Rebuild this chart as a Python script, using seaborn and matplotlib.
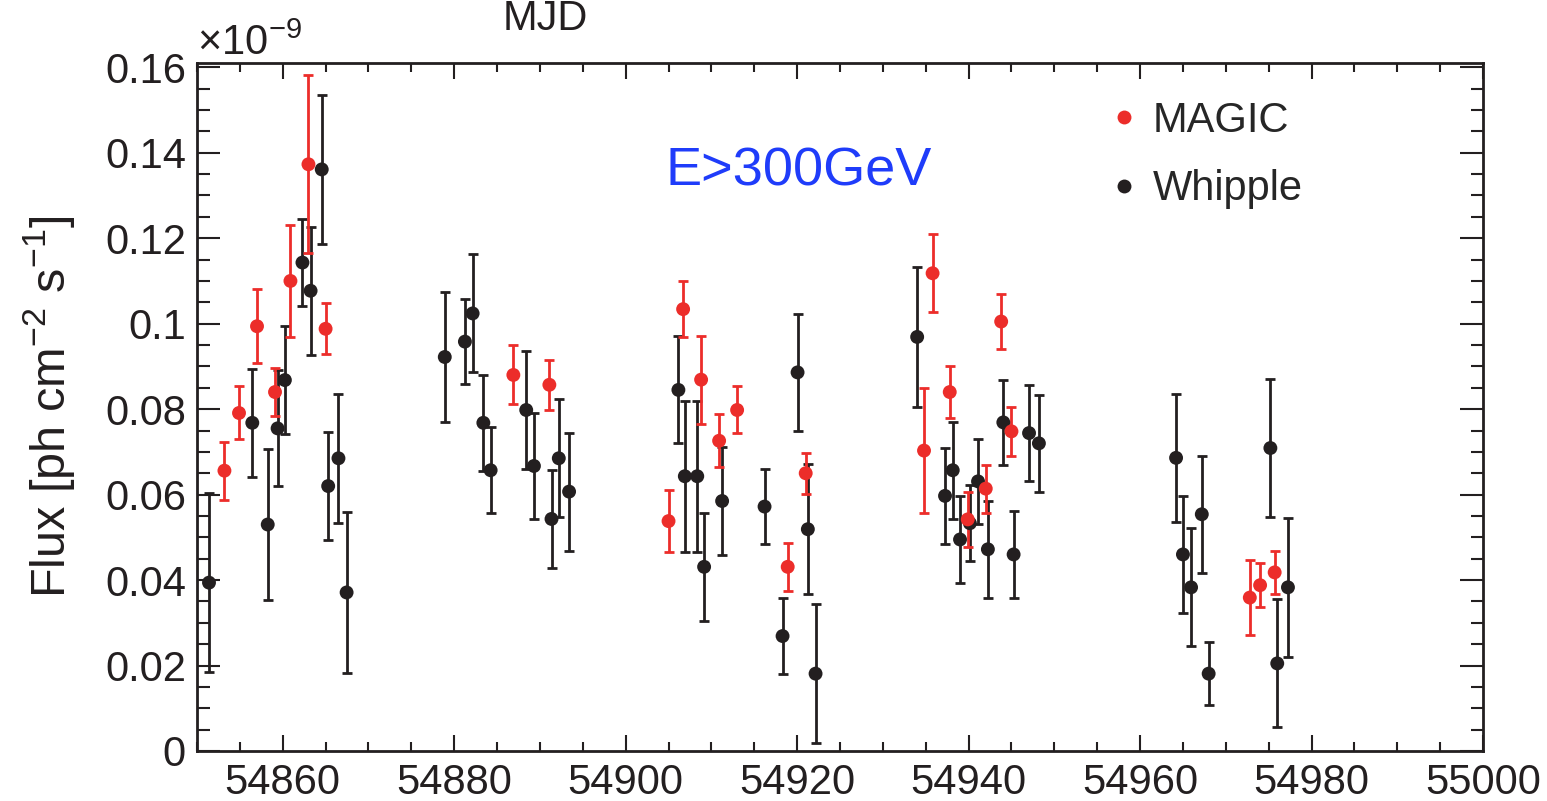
import numpy as np
import pandas as pd
import matplotlib
matplotlib.use("Agg")
import matplotlib.pyplot as plt
from matplotlib.ticker import MultipleLocator, FuncFormatter
import seaborn as sns

# MAGIC light curve, E > 300 GeV (flux in units of 1e-9 ph cm^-2 s^-1)
magic_mjd = [54853.2, 54854.9, 54857.0, 54859.1, 54860.9, 54863.0, 54865.0,
             54886.9, 54891.1,
             54905.0, 54906.7, 54908.8, 54910.9, 54913.0, 54918.9, 54921.0,
             54934.8, 54935.8, 54937.8, 54939.9, 54942.0, 54943.8, 54945.0,
             54972.8, 54974.0, 54975.7]
magic_flux = [0.0656, 0.0791, 0.0994, 0.0840, 0.1100, 0.1373, 0.0988,
              0.0880, 0.0857,
              0.0538, 0.1034, 0.0869, 0.0726, 0.0798, 0.0431, 0.0650,
              0.0703, 0.1118, 0.0840, 0.0542, 0.0614, 0.1005, 0.0748,
              0.0359, 0.0388, 0.0418]
magic_err = [0.0068, 0.0062, 0.0086, 0.0057, 0.0132, 0.0208, 0.0060,
             0.0069, 0.0059,
             0.0073, 0.0066, 0.0103, 0.0062, 0.0055, 0.0056, 0.0048,
             0.0147, 0.0091, 0.0060, 0.0064, 0.0056, 0.0065, 0.0057,
             0.0088, 0.0051, 0.0050]

# Whipple light curve
whipple_mjd = [54851.4, 54856.45, 54858.25, 54859.4, 54860.25, 54862.3, 54863.25,
               54864.55, 54865.3, 54866.5, 54867.45,
               54878.9, 54881.25, 54882.15, 54883.4, 54884.25, 54888.4, 54889.3,
               54891.35, 54892.2, 54893.4,
               54906.15, 54906.9, 54908.35, 54909.15, 54911.25, 54916.2, 54918.3,
               54920.05, 54921.25, 54922.15,
               54934.0, 54937.25, 54938.15, 54939.0, 54940.15, 54941.1, 54942.25,
               54944.05, 54945.25, 54947.05, 54948.2,
               54964.2, 54965.0, 54965.95, 54967.2, 54968.0, 54975.2, 54976.0,
               54977.25]
whipple_flux = [0.0394, 0.0768, 0.0530, 0.0755, 0.0868, 0.1143, 0.1077,
                0.1361, 0.0620, 0.0685, 0.0371,
                0.0922, 0.0958, 0.1024, 0.0768, 0.0657, 0.0798, 0.0667,
                0.0543, 0.0685, 0.0607,
                0.0845, 0.0643, 0.0643, 0.0431, 0.0585, 0.0572, 0.0269,
                0.0886, 0.0519, 0.0181,
                0.0969, 0.0597, 0.0657, 0.0495, 0.0533, 0.0631, 0.0472,
                0.0769, 0.0460, 0.0744, 0.0720,
                0.0686, 0.0460, 0.0383, 0.0554, 0.0181, 0.0709, 0.0205,
                0.0383]
whipple_err = [0.0210, 0.0126, 0.0177, 0.0136, 0.0126, 0.0101, 0.0150,
               0.0175, 0.0126, 0.0151, 0.0188,
               0.0152, 0.0100, 0.0138, 0.0113, 0.0101, 0.0138, 0.0125,
               0.0114, 0.0138, 0.0138,
               0.0125, 0.0177, 0.0177, 0.0126, 0.0127, 0.0088, 0.0088,
               0.0137, 0.0152, 0.0163,
               0.0163, 0.0112, 0.0113, 0.0101, 0.0089, 0.0100, 0.0113,
               0.0100, 0.0101, 0.0113, 0.0113,
               0.0150, 0.0137, 0.0138, 0.0137, 0.0074, 0.0162, 0.0150,
               0.0163]

instruments = ["MAGIC", "Whipple"]
RED = "#EC2D2A"
BLACK = "#231F20"
BLUE = "#1F3CFA"

df = pd.concat([
    pd.DataFrame({"MJD": whipple_mjd, "Flux": whipple_flux, "Err": whipple_err,
                  "Instrument": "Whipple"}),
    pd.DataFrame({"MJD": magic_mjd, "Flux": magic_flux, "Err": magic_err,
                  "Instrument": "MAGIC"}),
], ignore_index=True)

sns.set_style("ticks")
FONT = ["Liberation Sans", "DejaVu Sans"]
plt.rcParams["font.family"] = FONT
plt.rcParams["mathtext.fontset"] = "custom"
plt.rcParams["mathtext.rm"] = "Liberation Sans"
plt.rcParams["mathtext.it"] = "Liberation Sans:italic"
plt.rcParams["mathtext.bf"] = "Liberation Sans:bold"
plt.rcParams["mathtext.default"] = "regular"

fig = plt.figure(figsize=(15.47, 8.01), dpi=100)
ax = fig.add_axes([197 / 1547, 1 - 751 / 801, (1483 - 197) / 1547, (751 - 63) / 801])

# error bars first, markers on top
for name, col, z in [("Whipple", BLACK, 2.0), ("MAGIC", RED, 2.2)]:
    sub = df[df["Instrument"] == name]
    ax.errorbar(sub["MJD"], sub["Flux"], yerr=sub["Err"], fmt="none",
                ecolor=col, elinewidth=2.0, capsize=3.6, capthick=2.0, zorder=z)

sns.scatterplot(data=df, x="MJD", y="Flux", hue="Instrument",
                hue_order=instruments, palette={"MAGIC": RED, "Whipple": BLACK},
                s=100, linewidth=0, edgecolor="none", ax=ax, zorder=3)

ax.set_xlim(54850, 55000)
ax.set_ylim(0, 0.161)
ax.xaxis.set_major_locator(MultipleLocator(20))
ax.xaxis.set_minor_locator(MultipleLocator(5))
ax.yaxis.set_major_locator(MultipleLocator(0.02))
ax.yaxis.set_minor_locator(MultipleLocator(0.005))
ax.yaxis.set_major_formatter(FuncFormatter(lambda v, p: f"{v:g}"))
ax.xaxis.set_major_formatter(FuncFormatter(lambda v, p: f"{v:.0f}"))

ax.tick_params(which="both", direction="in", top=True, right=True,
               width=1.5, color=BLACK, labelcolor=BLACK, labelsize=30)
ax.tick_params(axis="x", which="major", length=11.5, pad=9)
ax.tick_params(axis="x", which="minor", length=6.5)
ax.tick_params(axis="y", which="major", length=16.5, pad=8)
ax.tick_params(axis="y", which="minor", length=9)
for sp in ax.spines.values():
    sp.set_linewidth(2.0)
    sp.set_color(BLACK)
    sp.set_visible(True)

ax.set_xlabel("")
ax.set_ylabel(r"Flux [ph cm$^{-2}$ s$^{-1}$]", fontsize=35, color=BLACK, labelpad=20)

fig.text(545 / 1547, 1 - 30 / 801, "MJD", fontsize=30, ha="center", va="baseline",
         color=BLACK)
fig.text(197 / 1547, 1 - 55 / 801, r"$\times10^{-9}$", fontsize=30, ha="left",
         va="baseline", color=BLACK)
ax.text(0.468, 0.842, "E>300GeV", transform=ax.transAxes, fontsize=39,
        color=BLUE, ha="center", va="center")

handles, labels = ax.get_legend_handles_labels()
ax.legend(handles, labels, loc="upper left", bbox_to_anchor=(0.711, 0.945),
          frameon=False, fontsize=30, handlelength=0.6, handletextpad=0.4,
          labelspacing=0.68, borderaxespad=0, borderpad=0, markerscale=1.0)

fig.savefig("out.png", dpi=100)
